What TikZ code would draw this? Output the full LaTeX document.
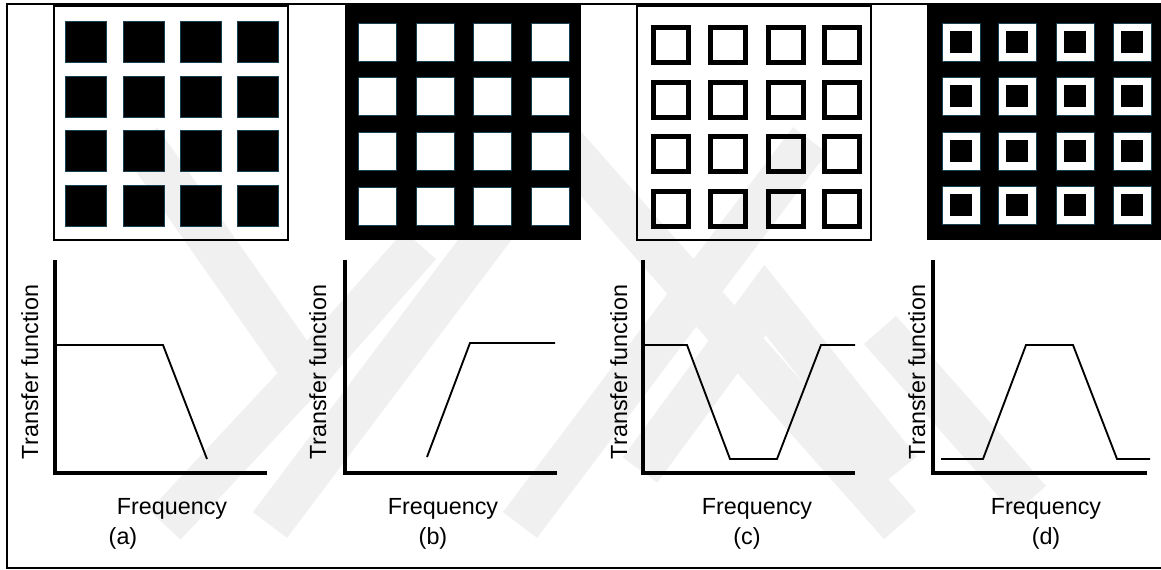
\documentclass[tikz,border=0pt]{standalone}
\usepackage{fontspec}
\setmainfont{Liberation Sans}
\begin{document}
\begin{tikzpicture}[x=0.75pt,y=-0.75pt,
  wm/.style={draw=black!6,line width=32pt,line join=miter,line cap=butt},
  frame/.style={draw=black,line width=1.2pt},
  panelw/.style={draw=black,line width=1.1pt},
  panelb/.style={fill=black},
  blk/.style={fill=black,draw={rgb,1:red,0.1;green,0.25;blue,0.32},line width=0.5pt},
  wht/.style={fill=white,draw={rgb,1:red,0.1;green,0.25;blue,0.32},line width=0.5pt},
  ring/.style={draw=black,line width=3.6pt},
  axis/.style={draw=black,line width=2.3pt},
  curve/.style={draw=black,line width=1.4pt,line join=miter},
  lab/.style={font=\fontsize{17.5}{20}\selectfont,inner sep=0pt}]
\useasboundingbox (0,0) rectangle (1161,570);
\fill[white] (0,0) rectangle (1161,570);
% watermark (approximate)
\begin{scope}
\clip (8,5) rectangle (1161,567);
\draw[wm] (140,140) -- (305,375) -- (165,525);
\draw[wm] (270,525) -- (560,140);
\draw[wm] (520,525) -- (810,140);
\draw[wm] (305,375) -- (420,245);
\draw[wm] (560,140) -- (900,525);
\draw[wm] (640,470) -- (765,300) -- (900,470);
\draw[wm] (880,330) -- (1030,500);
\end{scope}
% outer frame
\draw[frame] (1170,4) -- (7,4) -- (7,568) -- (1170,568);
% panel a
\draw[panelw] (54,6) rectangle (288,240);
\foreach \i/\x in {0/65,1/123,2/180,3/237}
  \foreach \j/\y in {0/21,1/76,2/130,3/185}
    \path[blk] (\x,\y) rectangle ++(41,41);
% panel b
\fill[panelb] (345,5) rectangle (581,240);
\foreach \x in {358,416,473,531}
  \foreach \y in {23,77,132,187}
    \path[wht] (\x,\y) rectangle ++(38,38);
% panel c
\draw[panelw] (637,6) rectangle (871,240);
\foreach \x in {651,708,766,822}
  \foreach \y in {25,80,134,189}
    \draw[ring] (\x+2.5,\y+2.5) rectangle ++(35,35);
% panel d
\fill[panelb] (927,5) rectangle (1170,240);
\foreach \x in {942,998,1056,1113}
  \foreach \y in {23,77,132,186}
    {\path[wht] (\x,\y) rectangle ++(38,38);
     \fill[black] (\x+8,\y+8) rectangle ++(22,22);}
% plots
\draw[axis] (55,260) -- (55,473) -- (267,473);
\draw[curve] (57,345) -- (163,345) -- (207,459);
\draw[axis] (345,260) -- (345,473) -- (557,473);
\draw[curve] (427,457) -- (470,343) -- (555,343);
\draw[axis] (643,260) -- (643,473) -- (855,473);
\draw[curve] (645,345) -- (687,345) -- (730,459) -- (777,459) -- (821,345) -- (855,345);
\draw[axis] (933,260) -- (933,473) -- (1147,473);
\draw[curve] (941,459) -- (983,459) -- (1026,345) -- (1073,345) -- (1117,459) -- (1150,459);
% labels
\node[lab,rotate=90,anchor=base] (tfa) at (38,372) {Transfer function};
\node[lab,rotate=90,anchor=base] (tfb) at (326,372) {Transfer function};
\node[lab,rotate=90,anchor=base] (tfc) at (627,372) {Transfer function};
\node[lab,rotate=90,anchor=base] (tfd) at (925,372) {Transfer function};
\node[lab,anchor=base] (fa) at (172,514) {Frequency};
\node[lab,anchor=base] (fb) at (443,514) {Frequency};
\node[lab,anchor=base] (fc) at (757,514) {Frequency};
\node[lab,anchor=base] (fd) at (1046,514) {Frequency};
\node[lab,anchor=base] (la) at (123,544) {(a)};
\node[lab,anchor=base] (lb) at (433,544) {(b)};
\node[lab,anchor=base] (lc) at (747,544) {(c)};
\node[lab,anchor=base] (ld) at (1046,544) {(d)};
\end{tikzpicture}
\end{document}
